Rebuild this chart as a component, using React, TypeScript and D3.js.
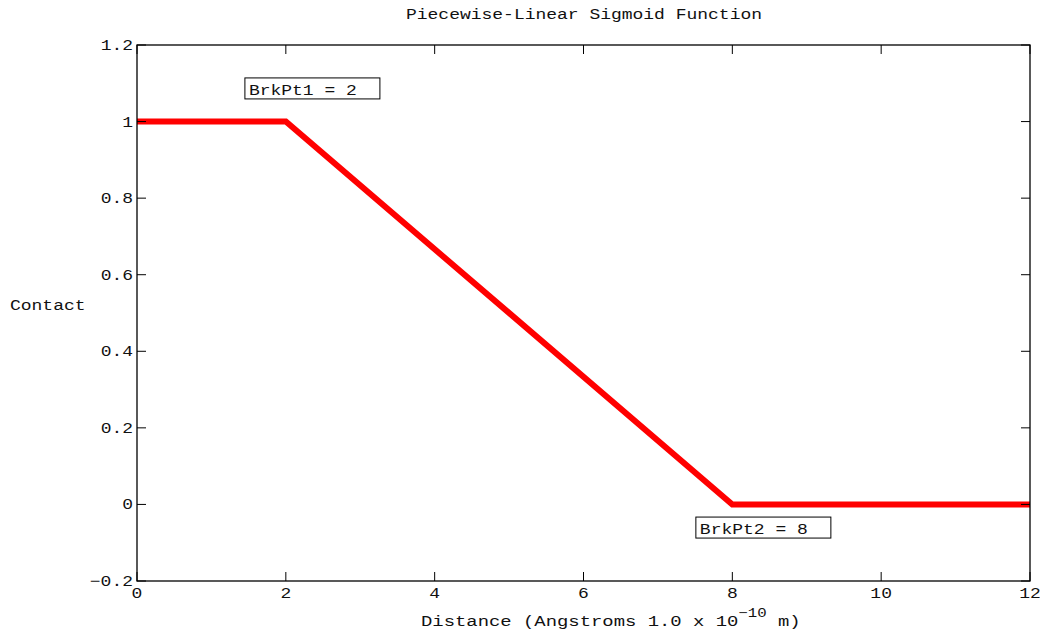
import React, { useEffect, useRef } from "react";
import * as d3 from "d3";

const distance = [0, 2, 8, 12];
const contact = [1, 1, 0, 0];
const xTicks = [0, 2, 4, 6, 8, 10, 12];
const yTicks = [-0.2, 0, 0.2, 0.4, 0.6, 0.8, 1, 1.2];
const notes = [
  { label: "BrkPt1 = 2", x: 1.45, y: 1.114 },
  { label: "BrkPt2 = 8", x: 7.51, y: -0.033 },
];

const font = "'Liberation Mono', 'DejaVu Sans Mono', monospace";

export default function App() {
  const ref = useRef<SVGSVGElement>(null);

  useEffect(() => {
    const svg = d3.select(ref.current);
    svg.selectAll("*").remove();

    const m = { left: 137, top: 45, right: 1030, bottom: 581 };
    const x = d3.scaleLinear().domain([0, 12]).range([m.left, m.right]);
    const y = d3.scaleLinear().domain([-0.2, 1.2]).range([m.bottom, m.top]);

    svg.append("rect").attr("width", 1040).attr("height", 630).attr("fill", "#fff");

    const line = d3
      .line<number>()
      .x((d, i) => x(distance[i]))
      .y(d => y(d));

    svg
      .append("path")
      .datum(contact)
      .attr("d", line)
      .attr("fill", "none")
      .attr("stroke", "#ff0000")
      .attr("stroke-width", 6);

    // frame
    svg
      .append("rect")
      .attr("x", m.left)
      .attr("y", m.top)
      .attr("width", m.right - m.left)
      .attr("height", m.bottom - m.top)
      .attr("fill", "none")
      .attr("stroke", "#000")
      .attr("stroke-width", 1.3);

    const tl = 9;
    const g = svg.append("g").attr("stroke", "#000").attr("stroke-width", 1);
    xTicks.forEach(t => {
      g.append("line").attr("x1", x(t)).attr("x2", x(t)).attr("y1", m.bottom).attr("y2", m.bottom - tl);
      g.append("line").attr("x1", x(t)).attr("x2", x(t)).attr("y1", m.top).attr("y2", m.top + tl);
    });
    yTicks.forEach(t => {
      g.append("line").attr("x1", m.left).attr("x2", m.left + tl).attr("y1", y(t)).attr("y2", y(t));
      g.append("line").attr("x1", m.right).attr("x2", m.right - tl).attr("y1", y(t)).attr("y2", y(t));
    });

    // text is stretched sideways, like the reference's wide courier
    const addText = (
      parent: d3.Selection<any, any, any, any>,
      tx: number,
      ty: number,
      anchor: string,
      sx = 1.2
    ) =>
      parent
        .append("text")
        .attr("transform", `translate(${tx},${ty}) scale(${sx},1)`)
        .attr("text-anchor", anchor);

    const txt = svg
      .append("g")
      .attr("font-family", font)
      .attr("font-size", 15)
      .attr("fill", "#111");

    xTicks.forEach(t => {
      addText(txt, x(t), m.bottom + 17, "middle").text(String(t));
    });
    yTicks.forEach(t => {
      addText(txt, m.left - 4, y(t) + 5, "end").text(t < 0 ? "\u22120.2" : d3.format("~g")(t));
    });

    addText(txt, 584, 19, "middle").text("Piecewise-Linear Sigmoid Function");
    addText(txt, 10, 310, "start").text("Contact");

    const xl = addText(txt, 421, 626, "start", 1.26);
    xl.append("tspan").text("Distance (Angstroms 1.0 x 10");
    xl.append("tspan").attr("dy", -9).attr("font-size", 12.5).text("\u221210");
    xl.append("tspan").attr("dy", 9).text(" m)");

    const boxes = svg.append("g");
    notes.forEach(n => {
      const bx = x(n.x);
      const by = y(n.y);
      boxes
        .append("rect")
        .attr("x", bx)
        .attr("y", by)
        .attr("width", 135)
        .attr("height", 21)
        .attr("fill", "#fff")
        .attr("stroke", "#000")
        .attr("stroke-width", 1);
      addText(boxes, bx + 4, by + 17, "start")
        .attr("font-family", font)
        .attr("font-size", 15)
        .attr("fill", "#111")
        .text(n.label);
    });
  }, []);

  return (
    <svg
      ref={ref}
      width={1040}
      height={630}
      style={{ display: "block", position: "absolute", left: 0, top: 0 }}
    />
  );
}
